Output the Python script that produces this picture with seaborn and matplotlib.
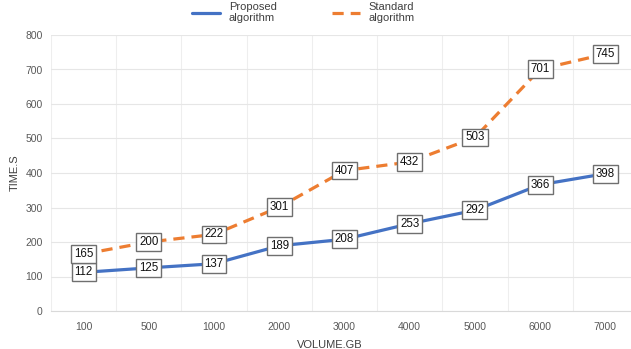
import matplotlib.pyplot as plt
import pandas as pd
import numpy as np
import seaborn as sns
from matplotlib.ticker import FixedLocator

volume = ["100", "500", "1000", "2000", "3000", "4000", "5000", "6000", "7000"]
proposed = [112, 125, 137, 189, 208, 253, 292, 366, 398]
standard = [165, 200, 222, 301, 407, 432, 503, 701, 745]

df = pd.DataFrame({"volume": volume * 2,
                   "time": proposed + standard,
                   "algo": ["Proposed\nalgorithm"] * 9 + ["Standard\nalgorithm"] * 9})

sns.set_style("white")
plt.rcParams['font.family'] = ['Liberation Sans', 'DejaVu Sans']

fig = plt.figure(figsize=(6.31, 3.49), dpi=100)
ax = fig.add_axes([51 / 631, 38 / 349, 587 / 631, 276 / 349])

sns.lineplot(data=df, x="volume", y="time", hue="algo", style="algo", sort=False,
             palette=["#4472C4", "#ED7D31"], dashes=[(None, None), (3.5, 2.2)],
             linewidth=2.3, ax=ax)

# value labels in boxes
for vals in (proposed, standard):
    for i, v in enumerate(vals):
        ax.annotate(str(v), (i, v), ha="center", va="center", fontsize=8.3, color="#111111",
                    bbox=dict(boxstyle="square,pad=0.25", fc="white", ec="#6f6f6f", lw=1))

ax.set_xlim(-0.5, 8.5)
ax.set_ylim(0, 800)
ax.set_yticks(np.arange(0, 801, 100))
ax.xaxis.set_minor_locator(FixedLocator(np.arange(-0.5, 9, 1)))
ax.grid(True, which="major", axis="y", color="#e6e6e6", lw=0.8)
ax.grid(True, which="minor", axis="x", color="#eeeeee", lw=0.8)
ax.tick_params(axis="x", which="major", length=0, labelsize=7.5, colors="#595959", pad=8)
ax.tick_params(axis="x", which="minor", length=5, color="#d9d9d9", width=0.8)
ax.tick_params(axis="y", length=0, labelsize=7.5, colors="#595959", pad=6)
for s in ["top", "right", "left"]:
    ax.spines[s].set_visible(False)
ax.spines["bottom"].set_color("#d9d9d9")

ax.set_xlabel("VOLUME.GB", fontsize=8, color="#404040", labelpad=3)
ax.set_ylabel("TIME.S", fontsize=8, color="#404040", labelpad=4)
ax.xaxis.set_label_coords(0.475, -0.105)

ax.legend(loc="upper center", bbox_to_anchor=(0.43, 1.145), ncol=2, frameon=False,
          fontsize=8, handlelength=2.5, columnspacing=5, labelcolor="#404040",
          borderpad=0.1, labelspacing=0.2)

fig.savefig("out.png", dpi=100)
